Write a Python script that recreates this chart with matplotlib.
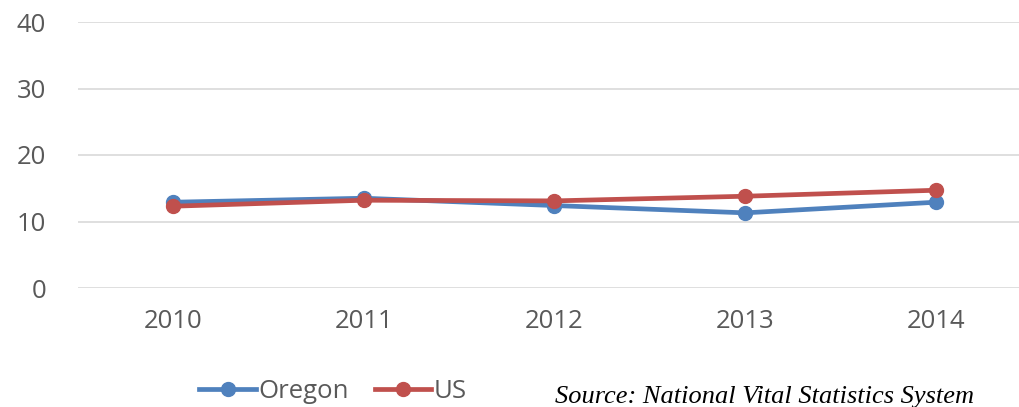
import matplotlib.pyplot as plt

years = ['2010', '2011', '2012', '2013', '2014']
oregon = [12.9, 13.5, 12.4, 11.3, 12.9]
us = [12.3, 13.2, 13.1, 13.8, 14.7]

fig = plt.figure(figsize=(10.2, 4.07), dpi=100)
ax = fig.add_axes([78 / 1020, 1 - 288 / 407, 953 / 1020, 266 / 407])

x = range(len(years))
ax.plot(x, oregon, color='#4F81BD', lw=3.4, marker='o', ms=10, label='Oregon', zorder=3)
ax.plot(x, us, color='#C0504D', lw=3.4, marker='o', ms=10, label='US', zorder=4)

ax.set_xlim(-0.5, len(years) - 0.5)
ax.set_ylim(0, 40)
ax.set_yticks([0, 10, 20, 30, 40])
ax.set_xticks(list(x))
ax.set_xticklabels(years)
ax.grid(axis='y', color='#D9D9D9', lw=1.2)
ax.set_axisbelow(True)
for s in ax.spines.values():
    s.set_visible(False)
ax.tick_params(length=0, labelsize=18.5, labelcolor='#595959')
ax.tick_params(axis='y', pad=23)
ax.tick_params(axis='x', pad=15)
for t in ax.get_xticklabels() + ax.get_yticklabels():
    t.set_fontfamily('Open Sans')

leg = fig.legend(loc='center', bbox_to_anchor=(333 / 1020, 1 - 391 / 407), ncol=2, frameon=False,
                 prop={'family': 'Open Sans', 'size': 18.5}, handlelength=2.2, handletextpad=0.1,
                 columnspacing=1.0, borderpad=0)
for t in leg.get_texts():
    t.set_color('#595959')

fig.text(555 / 1020, 1 - 397 / 407, 'Source: National Vital Statistics System', fontsize=19,
         style='italic', family='Liberation Serif', va='center', ha='left')

fig.savefig('out.png', dpi=100)
